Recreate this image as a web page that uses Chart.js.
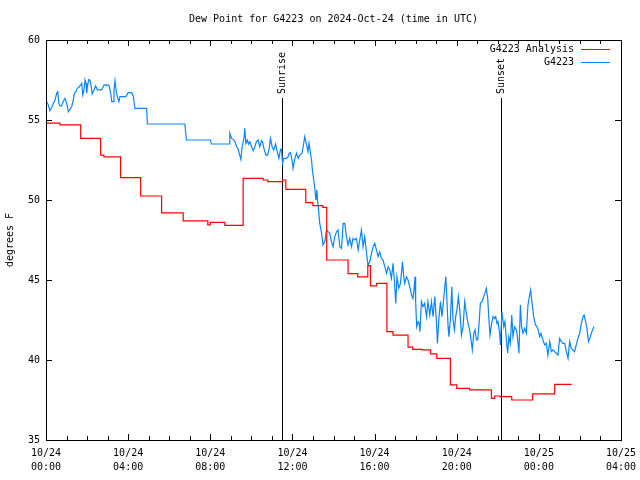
<!DOCTYPE html>
<html>
<head>
<meta charset="utf-8">
<title>Dew Point for G4223</title>
<script src="https://cdn.jsdelivr.net/npm/chart.js@4.4.1/dist/chart.umd.min.js"></script>
<style>
  html, body { margin: 0; padding: 0; background: #fff; }
  canvas { display: block; }
</style>
</head>
<body>
<canvas id="dewChart" width="640" height="480"></canvas>
<script>
// times are hours after 2024-10-24 00:00 UTC, dew point in degrees F
const analysisHours = [0, 0.68, 1.69, 2.66, 2.82, 3.63, 4.61, 5.63, 6.68, 7.88, 8.0, 8.71, 9.6, 10.57, 10.8,
  11.53, 11.68, 12.65, 13.0, 13.48, 13.67, 14.71, 15.18, 15.67, 15.8, 16.1, 16.6, 16.9, 17.63, 17.86, 18.3,
  18.73, 19.03, 19.69, 20.0, 20.63, 21.69, 21.85, 22.1, 22.68, 23.7, 24.77, 25.6];
const analysisDew = [54.8, 54.7, 53.85, 52.8, 52.7, 51.4, 50.25, 49.2, 48.7, 48.45, 48.6, 48.42, 51.35, 51.25, 51.15,
  51.25, 50.67, 49.83, 49.65, 49.54, 46.25, 45.4, 45.2, 45.9, 44.63, 44.79, 41.77, 41.56, 40.8, 40.67, 40.63,
  40.38, 40.1, 38.44, 38.23, 38.13, 37.6, 37.75, 37.71, 37.5, 37.88, 38.48, 38.48];

const obsHours = [
  0.03, 0.11, 0.19, 0.28, 0.36, 0.44, 0.52, 0.57, 0.63, 0.68, 0.76, 0.84,
  0.92, 1.01, 1.09, 1.17, 1.25, 1.33, 1.38, 1.46, 1.52, 1.62, 1.69, 1.74,
  1.79, 1.85, 1.90, 1.95, 1.98, 2.03, 2.09, 2.14, 2.19, 2.25, 2.34, 2.42,
  2.50, 2.71, 2.82, 2.95, 3.07, 3.15, 3.20, 3.28, 3.31, 3.36, 3.41, 3.47,
  3.55, 3.60, 3.89, 4.00, 4.17, 4.25, 4.33, 4.90, 4.94, 6.76, 6.84, 8.01,
  8.05, 8.92, 8.95, 9.04, 9.11, 9.20, 9.28, 9.36, 9.41, 9.49, 9.55, 9.64,
  9.68, 9.73, 9.80, 9.86, 9.93, 10.01, 10.09, 10.17, 10.25, 10.33, 10.41, 10.50,
  10.54, 10.61, 10.71, 10.79, 10.87, 10.93, 11.01, 11.09, 11.18, 11.26, 11.34, 11.42,
  11.47, 11.52, 11.58, 11.71, 11.79, 11.84, 11.91, 11.99, 12.03, 12.12, 12.20, 12.28,
  12.36, 12.47, 12.55, 12.60, 12.69, 12.76, 12.81, 12.88, 12.93, 12.98, 13.04, 13.09,
  13.14, 13.19, 13.22, 13.27, 13.33, 13.42, 13.49, 13.58, 13.66, 13.74, 13.82, 13.90,
  13.98, 14.06, 14.15, 14.22, 14.31, 14.39, 14.47, 14.55, 14.63, 14.71, 14.79, 14.88,
  14.95, 15.04, 15.12, 15.20, 15.28, 15.36, 15.44, 15.52, 15.61, 15.68, 15.77, 15.85,
  15.93, 16.01, 16.09, 16.17, 16.25, 16.33, 16.41, 16.50, 16.58, 16.66, 16.74, 16.82,
  16.90, 16.98, 17.03, 17.09, 17.18, 17.26, 17.36, 17.42, 17.47, 17.55, 17.63, 17.71,
  17.80, 17.87, 17.92, 17.97, 18.00, 18.05, 18.12, 18.17, 18.21, 18.28, 18.36, 18.44,
  18.53, 18.60, 18.69, 18.77, 18.85, 18.93, 19.01, 19.06, 19.14, 19.21, 19.28, 19.33,
  19.42, 19.47, 19.53, 19.58, 19.62, 19.69, 19.76, 19.82, 19.89, 19.95, 20.01, 20.08,
  20.15, 20.23, 20.31, 20.39, 20.47, 20.55, 20.63, 20.72, 20.76, 20.83, 20.89, 20.96,
  21.02, 21.09, 21.15, 21.23, 21.31, 21.40, 21.44, 21.51, 21.56, 21.62, 21.69, 21.77,
  21.85, 21.90, 21.96, 22.01, 22.09, 22.13, 22.20, 22.29, 22.35, 22.42, 22.48, 22.54,
  22.61, 22.68, 22.74, 22.82, 22.91, 22.97, 23.03, 23.10, 23.16, 23.23, 23.31, 23.39,
  23.47, 23.55, 23.60, 23.66, 23.75, 23.83, 23.91, 23.97, 24.04, 24.10, 24.20, 24.28,
  24.36, 24.44, 24.53, 24.61, 24.69, 24.77, 24.85, 24.93, 25.01, 25.09, 25.17, 25.26,
  25.34, 25.42, 25.50, 25.58, 25.66, 25.74, 25.82, 25.90, 25.99, 26.07, 26.15, 26.20,
  26.28, 26.34, 26.42, 26.51, 26.58, 26.68
];
const obsDew = [
  56.14, 55.94, 55.58, 55.79, 56.04, 56.25, 56.67, 56.77, 56.04, 55.88, 55.88, 56.15,
  56.35, 56.04, 55.52, 55.67, 55.83, 56.25, 56.67, 56.77, 56.98, 57.08, 57.19, 57.29,
  56.56, 56.88, 57.5, 57.29, 56.67, 57.19, 57.54, 57.5, 57.19, 56.63, 56.88, 57.13,
  56.88, 56.88, 57.17, 57.19, 57.17, 56.67, 56.15, 56.15, 56.88, 57.46, 56.88, 56.46,
  56.15, 56.46, 56.46, 56.71, 56.71, 56.5, 55.73, 55.73, 54.75, 54.75, 53.75, 53.75,
  53.5, 53.5, 54.17, 53.85, 53.79, 53.65, 53.33, 53.17, 52.92, 52.54, 53.33, 53.85,
  54.48, 53.54, 53.75, 53.5, 53.65, 53.33, 53.08, 53.33, 53.65, 53.75, 53.33, 53.71,
  53.65, 53.23, 52.8, 52.8, 53.23, 53.85, 53.33, 53.13, 53.5, 53.02, 52.6, 53.17,
  53.13, 52.29, 52.6, 52.6, 52.71, 52.92, 52.96, 52.4, 51.98, 52.6, 52.92, 52.6,
  52.81, 52.92, 53.54, 53.96, 53.44, 53.02, 53.54, 52.92, 52.5, 51.77, 51.25, 50.73,
  50.0, 50.63, 50.0, 49.38, 48.54, 47.92, 47.19, 47.4, 48.13, 48.02, 47.92, 47.4,
  47.08, 47.71, 48.02, 48.13, 47.08, 46.98, 48.54, 48.54, 47.71, 47.19, 47.6, 47.08,
  47.6, 47.5, 47.6, 46.88, 47.5, 48.13, 47.08, 47.71, 46.67, 45.94, 46.15, 46.67,
  47.08, 47.29, 46.88, 46.46, 46.77, 46.35, 46.25, 45.83, 45.42, 45.83, 45.63, 45.1,
  46.04, 44.69, 43.54, 45.21, 44.48, 44.79, 46.15, 45.21, 44.79, 45.21, 45.0, 44.58,
  44.06, 43.85, 44.38, 45.21, 43.65, 42.08, 42.4, 42.29, 41.77, 43.65, 43.33, 43.54,
  42.71, 43.65, 42.81, 43.65, 42.71, 43.96, 42.5, 41.04, 42.71, 43.65, 42.71, 43.33,
  44.58, 45.21, 43.54, 42.08, 41.46, 42.5, 44.58, 42.5, 41.88, 42.71, 43.13, 43.96,
  43.13, 41.56, 42.08, 43.65, 42.92, 42.29, 41.88, 41.04, 40.63, 41.67, 41.88, 41.25,
  41.25, 42.29, 43.54, 43.65, 43.96, 44.27, 44.48, 43.85, 42.71, 41.56, 42.19, 42.71,
  42.6, 42.71, 42.29, 42.4, 41.67, 40.94, 43.02, 42.08, 42.4, 41.25, 40.42, 41.46,
  41.04, 42.81, 41.46, 42.08, 41.88, 41.25, 40.42, 43.44, 42.08, 41.67, 41.98, 41.67,
  43.44, 44.06, 44.38, 43.65, 42.71, 42.19, 42.08, 41.88, 41.46, 41.67, 41.25, 40.94,
  41.04, 40.31, 41.15, 40.52, 40.63, 40.52, 40.42, 40.31, 41.35, 41.15, 41.04, 41.04,
  40.52, 40.1, 41.15, 40.73, 40.63, 40.52, 40.94, 41.35, 41.67, 42.29, 42.71, 42.81,
  42.4, 41.98, 41.15, 41.46, 41.77, 42.08
];

// x tick labels, one per 4 hours
const xTickLabels = [
  ['10/24', '00:00'], ['10/24', '04:00'], ['10/24', '08:00'], ['10/24', '12:00'],
  ['10/24', '16:00'], ['10/24', '20:00'], ['10/25', '00:00'], ['10/25', '04:00']
];
const sunHours = [11.5, 22.15];
const sunLabels = ['Sunrise', 'Sunset'];

const FONT = '10px "DejaVu Sans Mono", monospace';
Chart.defaults.font.family = '"DejaVu Sans Mono", monospace';
Chart.defaults.font.size = 10;
Chart.defaults.color = '#000';

const gnuplotFrame = {
  id: 'gnuplotFrame',
  beforeDatasetsDraw(chart) {
    const { ctx, chartArea: a, scales: { x } } = chart;
    ctx.save();
    ctx.strokeStyle = '#000';
    ctx.fillStyle = '#000';
    ctx.lineWidth = 1;
    ctx.font = FONT;
    sunHours.forEach((h, i) => {
      const px = Math.round(x.getPixelForValue(h)) + 0.5;
      ctx.beginPath();
      ctx.moveTo(px, 98);
      ctx.lineTo(px, a.bottom);
      ctx.stroke();
      ctx.save();
      ctx.translate(px, 94);
      ctx.rotate(-Math.PI / 2);
      ctx.textAlign = 'left';
      ctx.textBaseline = 'middle';
      ctx.fillText(sunLabels[i], 0, 0);
      ctx.restore();
    });
    ctx.restore();
  },
  afterDraw(chart) {
    const { ctx, chartArea: a, scales: { x, y } } = chart;
    ctx.save();
    ctx.strokeStyle = '#000';
    ctx.fillStyle = '#000';
    ctx.lineWidth = 1;
    ctx.font = FONT;

    // border box
    ctx.strokeRect(a.left + 0.5, a.top + 0.5, a.right - a.left, a.bottom - a.top);

    // inward ticks, hourly on x, every 5 on y
    ctx.beginPath();
    for (let h = x.min; h <= x.max; h++) {
      const px = Math.round(x.getPixelForValue(h)) + 0.5;
      const len = h % 4 === 0 ? 6 : 4;
      ctx.moveTo(px, a.bottom); ctx.lineTo(px, a.bottom - len);
      ctx.moveTo(px, a.top); ctx.lineTo(px, a.top + len);
    }
    for (let v = y.min; v <= y.max; v += 5) {
      const py = Math.round(y.getPixelForValue(v)) + 0.5;
      ctx.moveTo(a.left, py); ctx.lineTo(a.left + 6, py);
      ctx.moveTo(a.right, py); ctx.lineTo(a.right - 6, py);
    }
    ctx.stroke();

    // legend, text right aligned with a line sample
    ctx.textAlign = 'right';
    ctx.textBaseline = 'middle';
    chart.data.datasets.forEach((ds, i) => {
      const ly = 49.5 + i * 13;
      ctx.fillText(ds.label, 574, ly);
      ctx.strokeStyle = ds.borderColor;
      ctx.beginPath();
      ctx.moveTo(581, ly);
      ctx.lineTo(610, ly);
      ctx.stroke();
    });

    // title and y axis title
    ctx.textAlign = 'center';
    ctx.fillText('Dew Point for G4223 on 2024-Oct-24 (time in UTC)', (a.left + a.right) / 2, 19);
    ctx.translate(10, 240);
    ctx.rotate(-Math.PI / 2);
    ctx.fillText('degrees F', 0, 0);
    ctx.restore();
  }
};

new Chart(document.getElementById('dewChart'), {
  type: 'line',
  data: {
    datasets: [{
      label: 'G4223 Analysis',
      data: analysisHours.map((h, i) => ({ x: h, y: analysisDew[i] })),
      borderColor: '#ff0000',
      borderWidth: 1.2,
      pointRadius: 0,
      stepped: true,
      fill: false
    }, {
      label: 'G4223',
      data: obsHours.map((h, i) => ({ x: h, y: obsDew[i] })),
      borderColor: '#0a84ff',
      borderWidth: 1.2,
      pointRadius: 0,
      tension: 0,
      fill: false
    }]
  },
  options: {
    responsive: false,
    animation: false,
    layout: { padding: { top: 40, right: 19, left: 0, bottom: 0 } },
    plugins: { legend: { display: false }, title: { display: false }, tooltip: { enabled: false } },
    scales: {
      x: {
        type: 'linear',
        min: 0,
        max: 28,
        grid: { display: false, drawTicks: false },
        border: { display: false },
        ticks: {
          stepSize: 4,
          autoSkip: false,
          maxRotation: 0,
          padding: 6,
          font: { size: 10, lineHeight: 1.4 },
          callback: (v) => xTickLabels[v / 4]
        },
        afterFit: (s) => { s.height = 40; s.paddingLeft = 0; s.paddingRight = 0; }
      },
      y: {
        min: 35,
        max: 60,
        grid: { display: false, drawTicks: false },
        border: { display: false },
        ticks: { stepSize: 5, padding: 6, font: { size: 10 } },
        afterFit: (s) => { s.width = 46; s.paddingTop = 0; s.paddingBottom = 0; }
      }
    }
  },
  plugins: [gnuplotFrame]
});
</script>
</body>
</html>
